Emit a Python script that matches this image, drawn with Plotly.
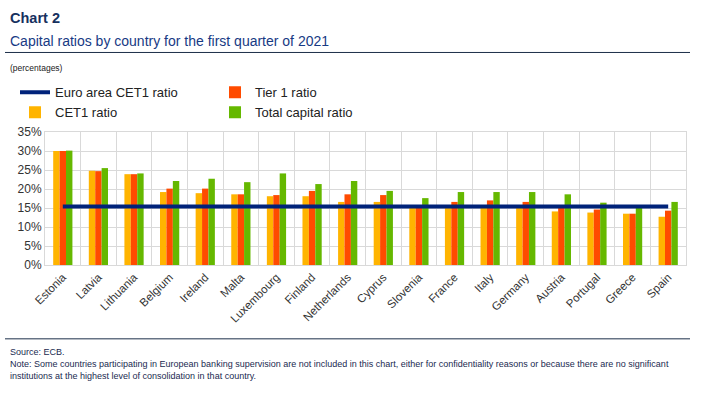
import plotly.graph_objects as go

countries = ["Estonia", "Latvia", "Lithuania", "Belgium", "Ireland", "Malta", "Luxembourg",
             "Finland", "Netherlands", "Cyprus", "Slovenia", "France", "Italy", "Germany",
             "Austria", "Portugal", "Greece", "Spain"]
cet1 = [30.0, 24.8, 23.9, 19.2, 18.9, 18.6, 18.1, 18.1, 16.6, 16.6, 15.3, 15.3, 15.3, 15.3, 14.1, 13.8, 13.5, 12.7]
tier1 = [30.0, 24.7, 23.9, 20.1, 20.1, 18.6, 18.4, 19.5, 18.6, 18.4, 15.3, 16.6, 17.0, 16.6, 15.3, 14.6, 13.5, 14.3]
total = [30.1, 25.5, 24.1, 22.1, 22.7, 21.8, 24.1, 21.3, 22.1, 19.5, 17.6, 19.2, 19.2, 19.2, 18.6, 16.4, 15.1, 16.6]
euro_area_cet1 = 15.4
y_ticks = [0, 5, 10, 15, 20, 25, 30, 35]

W, H = 707, 395
L, R, T, B = 45, 686, 131.7, 265.0

def px(x):
    return (x - L) / (R - L)

def py(y):
    return (B - y) / (B - T)

FONT = "Arial, Liberation Sans, sans-serif"
NARROW = "Liberation Sans Narrow, Arial Narrow, Arial, sans-serif"

fig = go.Figure()
fig.add_trace(go.Bar(x=countries, y=cet1, name="CET1 ratio", marker_color="#FFB400",
                     marker_line_width=0, legend="legend", legendrank=2))
fig.add_trace(go.Bar(x=countries, y=tier1, name="Tier 1 ratio", marker_color="#FF4B00",
                     marker_line_width=0, legend="legend2", legendrank=1))
fig.add_trace(go.Bar(x=countries, y=total, name="Total capital ratio", marker_color="#65B800",
                     marker_line_width=0, legend="legend2", legendrank=2))
fig.add_trace(go.Scatter(x=countries, y=[euro_area_cet1] * len(countries), mode="lines",
                         name="Euro area CET1 ratio", line=dict(color="#00237a", width=4),
                         legend="legend", legendrank=1))

legend_common = dict(orientation="v", xanchor="left", yanchor="top", tracegroupgap=0,
                     font=dict(family=FONT, size=13, color="#222222"),
                     itemwidth=30, bgcolor="rgba(0,0,0,0)", traceorder="normal")

fig.update_layout(
    width=W, height=H,
    margin=dict(l=L, r=W - R, t=T, b=H - B),
    paper_bgcolor="white", plot_bgcolor="white",
    barmode="group", bargap=0.46, bargroupgap=0,
    font=dict(family=FONT, size=12, color="#333333"),
    showlegend=True,
    legend=dict(x=px(15), y=py(77), **legend_common),
    legend2=dict(x=px(215), y=py(77), **legend_common),
    xaxis=dict(type="category", tickson="boundaries", showgrid=True, gridcolor="#d9d9d9",
               gridwidth=1, tickangle=-45, ticks="", showline=True, linecolor="#d9d9d9",
               mirror=True, tickfont=dict(family=FONT, size=11.5, color="#333333")),
    yaxis=dict(range=[0, 35], tickvals=y_ticks, ticktext=[f"{v}%" for v in y_ticks],
               showgrid=True, gridcolor="#d9d9d9", gridwidth=1, zeroline=False,
               showline=True, linecolor="#d9d9d9", mirror=True, ticks="",
               tickfont=dict(family=FONT, size=12, color="#333333")),
)

annotations = [
    dict(text="<b>Chart 2</b>", x=px(8), y=py(17), font=dict(size=14.5, color="#16305e")),
    dict(text="Capital ratios by country for the first quarter of 2021", x=px(8), y=py(40),
         font=dict(size=14, color="#173a84")),
    dict(text="(percentages)", x=px(8), y=py(68), font=dict(size=8.5, color="#222222")),
    dict(text="Source: ECB.", x=px(8), y=py(352), font=dict(family=NARROW, size=9, color="#1a2a50")),
    dict(text="Note: Some countries participating in European banking supervision are not included in this chart, "
              "either for confidentiality reasons or because there are no significant",
         x=px(8), y=py(364), font=dict(family=NARROW, size=9, color="#1a2a50")),
    dict(text="institutions at the highest level of consolidation in that country.",
         x=px(8), y=py(376), font=dict(family=NARROW, size=9, color="#1a2a50")),
]
for a in annotations:
    a.update(xref="paper", yref="paper", xanchor="left", yanchor="middle", showarrow=False)
    fig.add_annotation(**a)

fig.add_shape(type="line", xref="paper", yref="paper", x0=px(5), x1=px(690), y0=py(52), y1=py(52),
              line=dict(color="#1c2f4a", width=1))
fig.add_shape(type="line", xref="paper", yref="paper", x0=px(5), x1=px(690), y0=py(339), y1=py(339),
              line=dict(color="#1c2f4a", width=1))

fig.write_html("out.html", config={"displayModeBar": False},
               post_script="document.body.style.margin='0';document.body.style.padding='0';")
